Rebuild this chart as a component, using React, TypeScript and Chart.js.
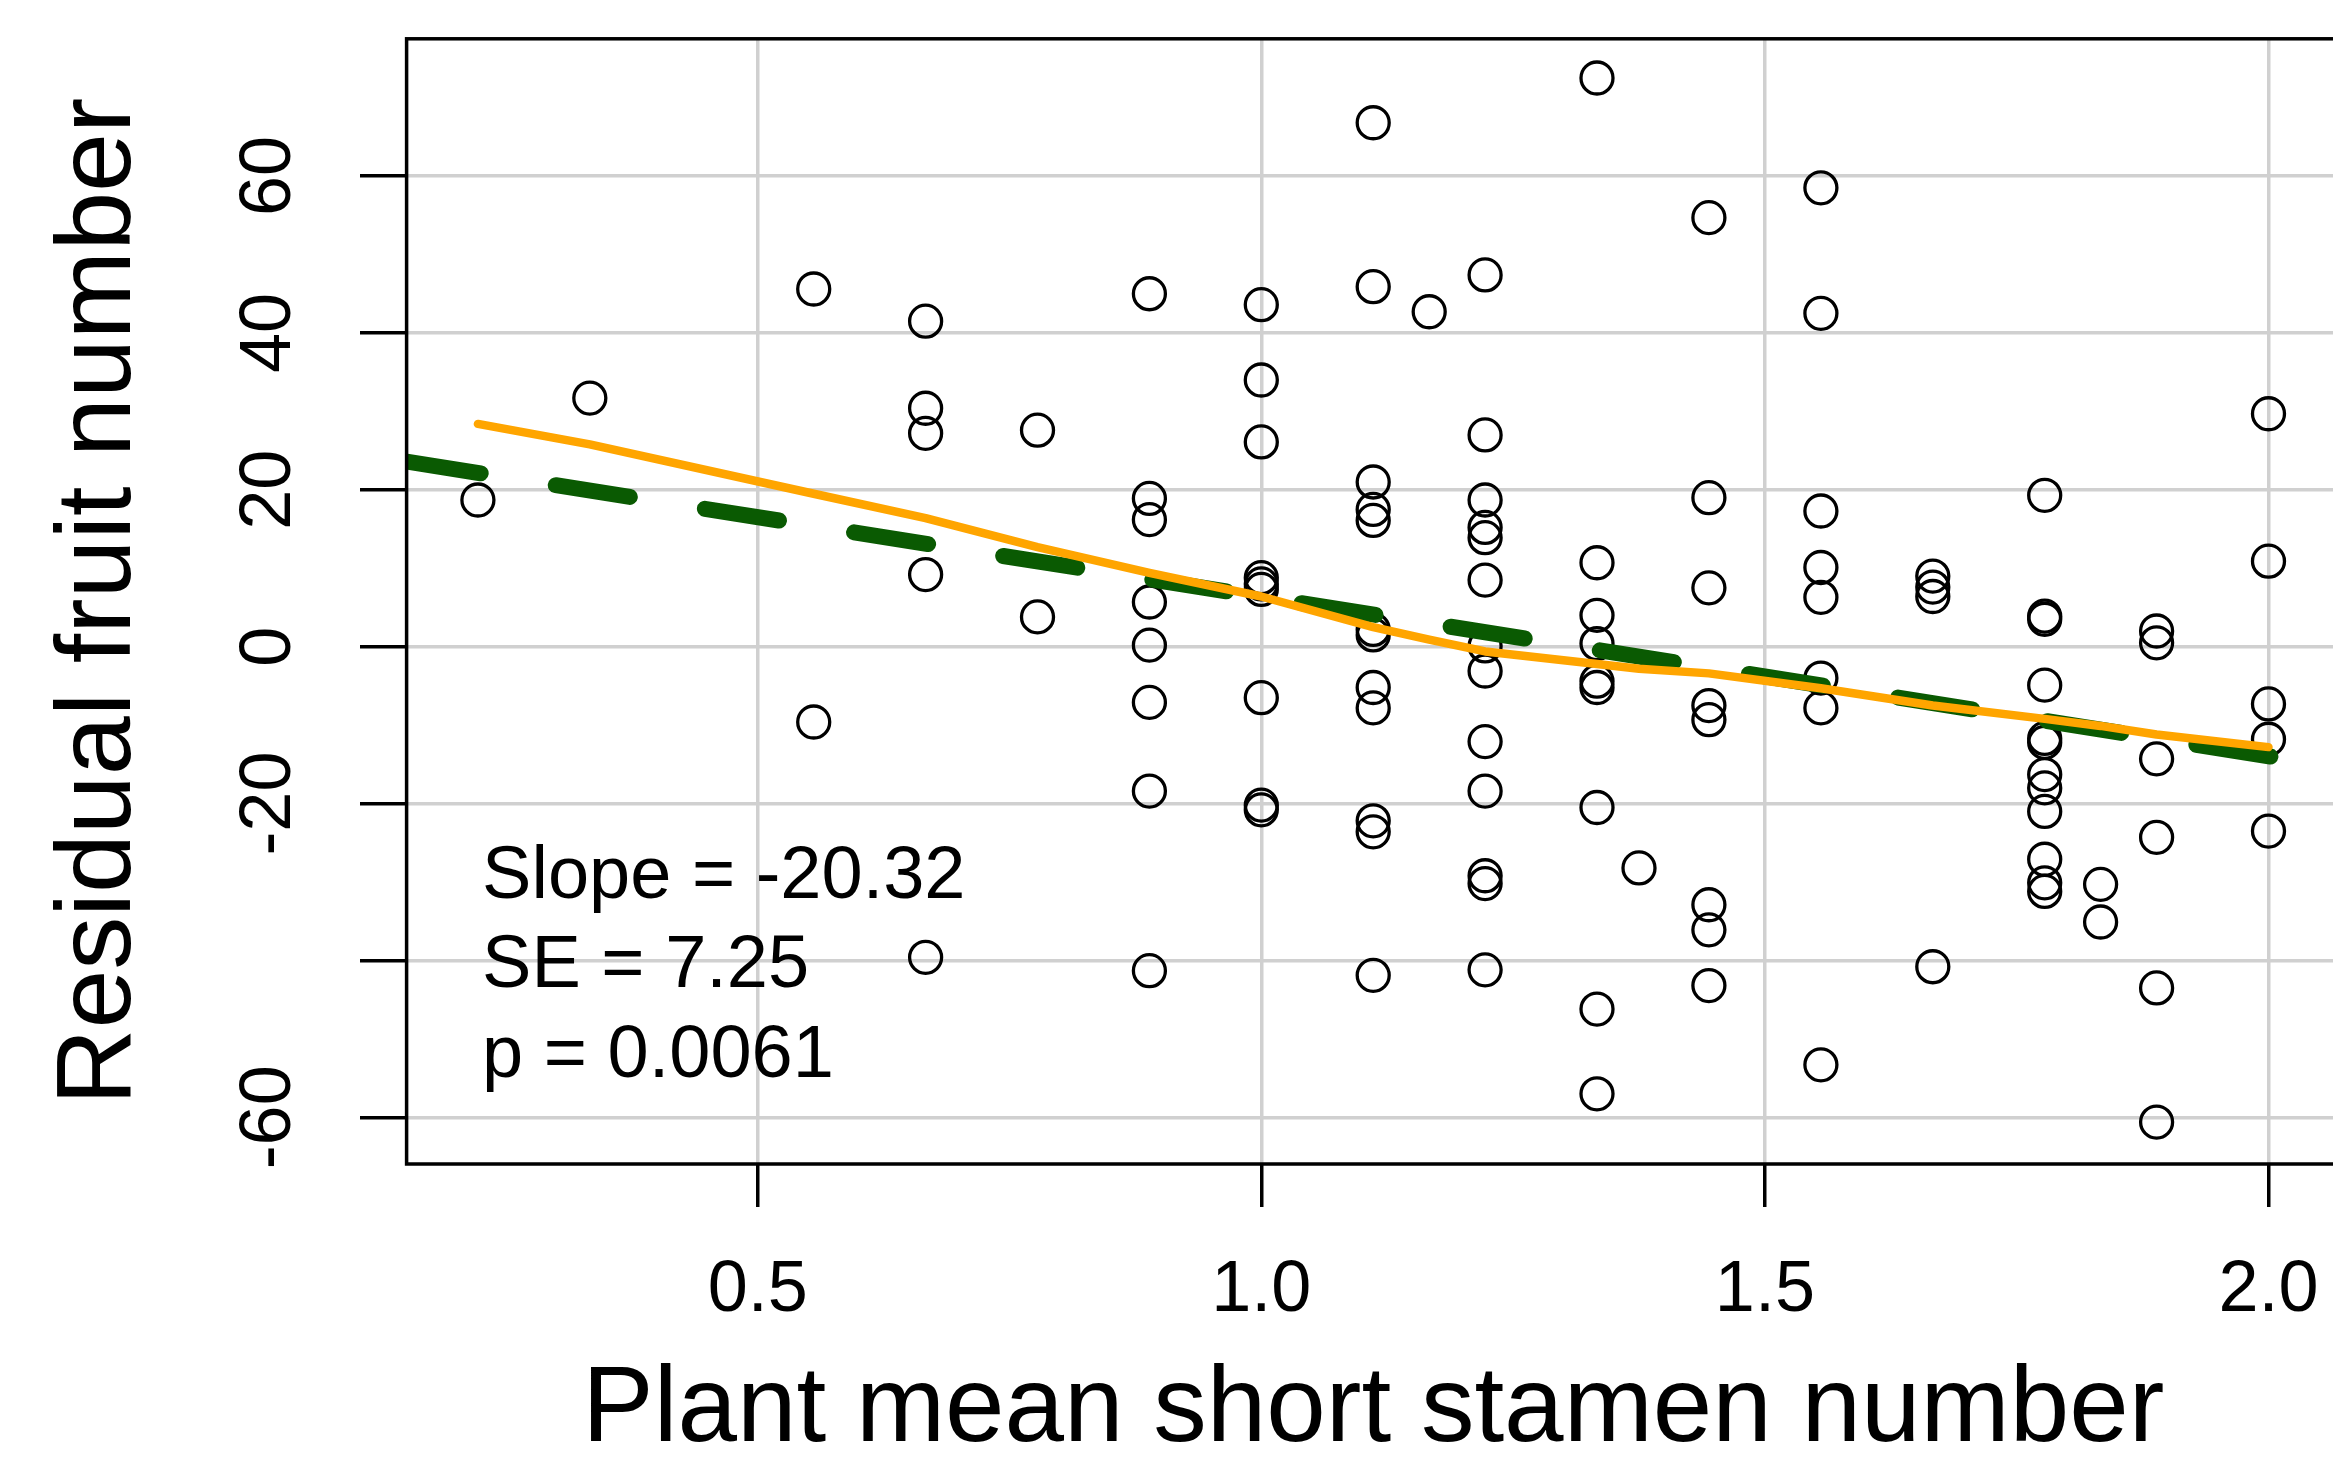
import React, { useEffect, useRef } from 'react';
import { Chart, registerables } from 'chart.js';

Chart.register(...registerables);

const FONT = '"Liberation Sans", Arial, Helvetica, sans-serif';

// Plant mean short stamen number (x levels)
const stamenLevels = [
  0.2222, 0.3333, 0.5556, 0.6667, 0.7778, 0.8889, 1.0, 1.1111, 1.1667, 1.2222,
  1.3333, 1.375, 1.4444, 1.5556, 1.6667, 1.7778, 1.8333, 1.8889, 2.0,
];

// Residual fruit number observed at each level
const residualsByLevel = [
  [18.7],
  [31.7],
  [45.6, -9.6],
  [41.5, 30.4, 27.2, 9.2, -39.6],
  [27.6, 3.8],
  [45.0, 18.9, 16.2, 5.7, 0.2, -7.1, -18.4, -41.3],
  [43.6, 34.0, 26.1, 8.8, 8.0, 7.3, -6.5, -20.2, -20.8],
  [66.8, 45.9, 21.0, 17.5, 16.1, 2.2, 1.5, -5.2, -7.8, -22.2, -23.6, -41.9],
  [42.7],
  [47.4, 27.0, 18.7, 15.2, 13.9, 8.5, 0.1, -3.1, -12.1, -18.4, -29.2, -30.2, -41.2],
  [72.5, 10.7, 4.0, 0.4, -4.4, -5.2, -20.5, -46.2, -57.0],
  [-28.2],
  [54.7, 19.0, 7.5, -7.5, -9.3, -32.9, -36.1, -43.2],
  [58.5, 42.5, 17.3, 10.1, 6.3, -4.0, -7.8, -53.3],
  [9.0, 7.6, 6.4, -40.8],
  [19.3, 3.9, 3.5, -4.9, -11.7, -12.2, -16.3, -18.0, -21.0, -27.1, -30.1, -31.2],
  [-30.3, -35.1],
  [2.0, 0.5, -14.3, -24.3, -43.5, -60.6],
  [29.7, 10.9, -7.3, -11.8, -23.5],
];

// Smoothed (lowess) curve
const lowessX = [
  0.2222, 0.3333, 0.5556, 0.6667, 0.7778, 0.8889, 1.0, 1.1111, 1.1667, 1.2222,
  1.3333, 1.375, 1.4444, 1.5556, 1.6667, 1.7778, 1.8333, 1.8889, 2.0,
];
const lowessY = [
  28.4, 25.8, 19.5, 16.4, 12.7, 9.4, 6.4, 2.5, 0.9, -0.6,
  -2.2, -2.8, -3.4, -5.3, -7.5, -9.2, -10.1, -11.2, -12.8,
];

// Linear regression line (slope -20.32), endpoints at plot edges
const fitX = [0.1514, 2.071];
const fitY = [23.6, -15.4];

const xRange = [0.1514, 2.071];
const yRange = [-65.95, 77.5];

const xTicks = [0.5, 1.0, 1.5, 2.0];
const xTickLabels = ['0.5', '1.0', '1.5', '2.0'];
const yTicks = [-60, -40, -20, 0, 20, 40, 60];
const yTickLabels = ['-60', '', '-20', '0', '20', '40', '60'];

const statsLines = ['Slope = -20.32', 'SE = 7.25', 'p = 0.0061'];
const xTitle = 'Plant mean short stamen number';
const yTitle = 'Residual fruit number';

const framePlugin = {
  id: 'frameBox',
  afterDatasetsDraw(chart: any) {
    const { ctx, chartArea } = chart;
    const { left, top, right, bottom } = chartArea;
    ctx.save();
    ctx.strokeStyle = '#000';
    ctx.lineWidth = 3.5;
    ctx.strokeRect(left, top, right - left, bottom - top);
    ctx.restore();
  },
};

const statsPlugin = {
  id: 'statsText',
  afterDraw(chart: any) {
    const { ctx, chartArea } = chart;
    ctx.save();
    ctx.font = `74px ${FONT}`;
    ctx.fillStyle = '#000';
    ctx.textAlign = 'left';
    ctx.textBaseline = 'alphabetic';
    statsLines.forEach((t, i) => {
      ctx.fillText(t, chartArea.left + 75.5, chartArea.top + 859 + i * 89.5);
    });
    ctx.restore();
  },
};

const zeroPadding = (scale: any) => {
  scale.paddingLeft = 0;
  scale.paddingRight = 0;
  scale.paddingTop = 0;
  scale.paddingBottom = 0;
};

export default function App() {
  const canvasRef = useRef<HTMLCanvasElement | null>(null);

  useEffect(() => {
    const canvas = canvasRef.current;
    if (!canvas) return;

    const points: { x: number; y: number }[] = [];
    stamenLevels.forEach((x, i) => {
      residualsByLevel[i].forEach((y) => points.push({ x, y }));
    });
    const lowess = lowessX.map((x, i) => ({ x, y: lowessY[i] }));
    const fit = fitX.map((x, i) => ({ x, y: fitY[i] }));

    const chart = new Chart(canvas, {
      type: 'scatter',
      data: {
        datasets: [
          {
            label: 'lowess',
            data: lowess,
            showLine: true,
            borderColor: '#FFA500',
            borderWidth: 8.5,
            borderCapStyle: 'round',
            borderJoinStyle: 'round',
            pointRadius: 0,
            tension: 0,
            order: 1,
          } as any,
          {
            label: 'fit',
            data: fit,
            showLine: true,
            borderColor: '#0a5a02',
            borderWidth: 16,
            borderDash: [75, 76],
            borderCapStyle: 'round',
            pointRadius: 0,
            clip: 0,
            order: 2,
          } as any,
          {
            label: 'residuals',
            data: points,
            pointRadius: 16,
            pointBorderWidth: 3.3,
            pointBorderColor: '#000',
            pointBackgroundColor: 'rgba(0,0,0,0)',
            pointStyle: 'circle',
            order: 3,
          } as any,
        ],
      },
      options: {
        responsive: false,
        animation: false,
        devicePixelRatio: 1,
        events: [],
        layout: {
          autoPadding: false,
          padding: { left: 0, right: 5, top: 38.8, bottom: 0 },
        },
        plugins: {
          legend: { display: false },
          tooltip: { enabled: false },
        },
        scales: {
          x: {
            type: 'linear',
            min: xRange[0],
            max: xRange[1],
            afterBuildTicks: (scale: any) => {
              scale.ticks = xTicks.map((v) => ({ value: v }));
            },
            afterFit: (scale: any) => {
              scale.height = 294;
              zeroPadding(scale);
            },
            border: { display: false },
            grid: {
              color: '#d0d0d0',
              lineWidth: 3.5,
              drawTicks: true,
              tickLength: 43,
              tickColor: '#000',
              tickWidth: 3.5,
            },
            ticks: {
              autoSkip: false,
              maxRotation: 0,
              minRotation: 0,
              padding: 40.8,
              color: '#000',
              font: { family: FONT, size: 72 },
              callback: (value: any) => {
                const i = xTicks.indexOf(Number(value));
                return i >= 0 ? xTickLabels[i] : '';
              },
            },
            title: {
              display: true,
              text: xTitle,
              color: '#000',
              font: { family: FONT, size: 107, lineHeight: 0.8 },
              padding: { top: 0, bottom: 3.3 },
            },
          },
          y: {
            type: 'linear',
            min: yRange[0],
            max: yRange[1],
            afterBuildTicks: (scale: any) => {
              scale.ticks = yTicks.map((v) => ({ value: v }));
            },
            afterFit: (scale: any) => {
              scale.width = 406.6;
              zeroPadding(scale);
            },
            border: { display: false },
            grid: {
              color: '#d0d0d0',
              lineWidth: 3.5,
              drawTicks: true,
              tickLength: 46.6,
              tickColor: '#000',
              tickWidth: 3.5,
            },
            ticks: {
              autoSkip: false,
              minRotation: 90,
              maxRotation: 90,
              crossAlign: 'center',
              padding: 37.6,
              color: '#000',
              font: { family: FONT, size: 72 },
              callback: (value: any) => {
                const i = yTicks.indexOf(Number(value));
                return i >= 0 ? yTickLabels[i] : '';
              },
            },
            title: {
              display: true,
              text: yTitle,
              color: '#000',
              font: { family: FONT, size: 106, lineHeight: 1.2 },
              padding: { top: 36.7, bottom: 0 },
            },
          },
        },
      } as any,
      plugins: [framePlugin, statsPlugin],
    });

    return () => chart.destroy();
  }, []);

  return (
    <div
      style={{
        position: 'fixed',
        left: 0,
        top: 0,
        width: '2333px',
        height: '1458px',
        overflow: 'hidden',
        background: '#fff',
      }}
    >
      <canvas
        ref={canvasRef}
        width={2345}
        height={1458}
        style={{ width: '2345px', height: '1458px', display: 'block' }}
      />
    </div>
  );
}
